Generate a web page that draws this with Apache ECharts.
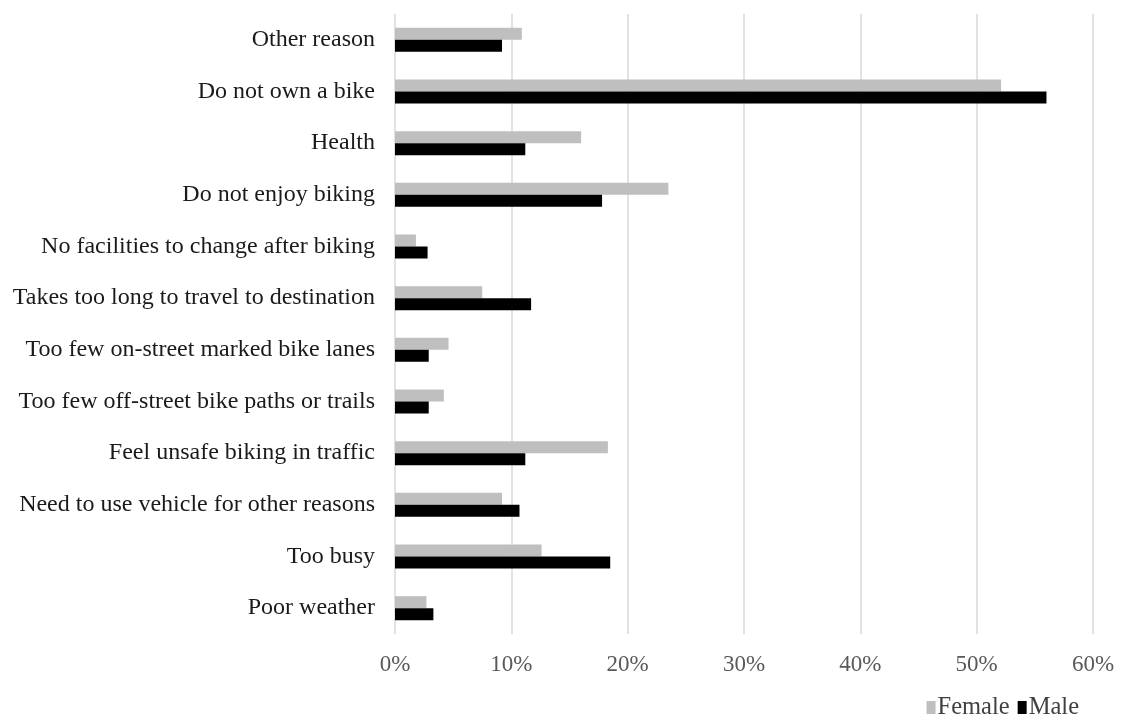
<!DOCTYPE html>
<html><head><meta charset="utf-8">
<script src="https://cdn.jsdelivr.net/npm/echarts@6/dist/echarts.min.js"></script>
<style>html,body{margin:0;padding:0;background:#fff}#c{width:1122px;height:721px}</style>
</head><body><div id="c"></div>
<script>
const categories = ["Other reason","Do not own a bike","Health","Do not enjoy biking","No facilities to change after biking","Takes too long to travel to destination","Too few on-street marked bike lanes","Too few off-street bike paths or trails","Feel unsafe biking in traffic","Need to use vehicle for other reasons","Too busy","Poor weather"];
const female = [10.9,52.1,16.0,23.5,1.8,7.5,4.6,4.2,18.3,9.2,12.6,2.7];
const male = [9.2,56.0,11.2,17.8,2.8,11.7,2.9,2.9,11.2,10.7,18.5,3.3];
const xTicks = {min:0,max:60,interval:10};
const font = "Liberation Serif";
const chart = echarts.init(document.getElementById('c'));
chart.setOption({
  animation:false,
  textStyle:{fontFamily:font},
  grid:{left:395,right:29,top:14,bottom:87},
  legend:{right:38,bottom:-4,itemWidth:9,itemHeight:13,itemGap:8,icon:'rect',
    textStyle:{fontFamily:font,fontSize:24.5,color:'#404040',padding:[0,0,0,-3]},
    data:['Female','Male']},
  xAxis:{type:'value',min:xTicks.min,max:xTicks.max,interval:xTicks.interval,
    axisLabel:{formatter:'{value}%',fontFamily:font,fontSize:23,color:'#595959',margin:19},
    axisLine:{show:false},axisTick:{show:false},
    splitLine:{lineStyle:{color:'#d9d9d9',width:1.5}}},
  yAxis:{type:'category',data:categories,inverse:true,
    axisLine:{show:false},axisTick:{show:false},
    axisLabel:{fontFamily:font,fontSize:24,color:'#1a1a1a',margin:20,padding:[4,0,0,0]}},
  series:[
    {name:'Female',type:'bar',data:female,itemStyle:{color:'#bfbfbf'},barWidth:12,barGap:'0%'},
    {name:'Male',type:'bar',data:male,itemStyle:{color:'#000000'},barWidth:12,barGap:'0%'}
  ]
});
</script></body></html>
